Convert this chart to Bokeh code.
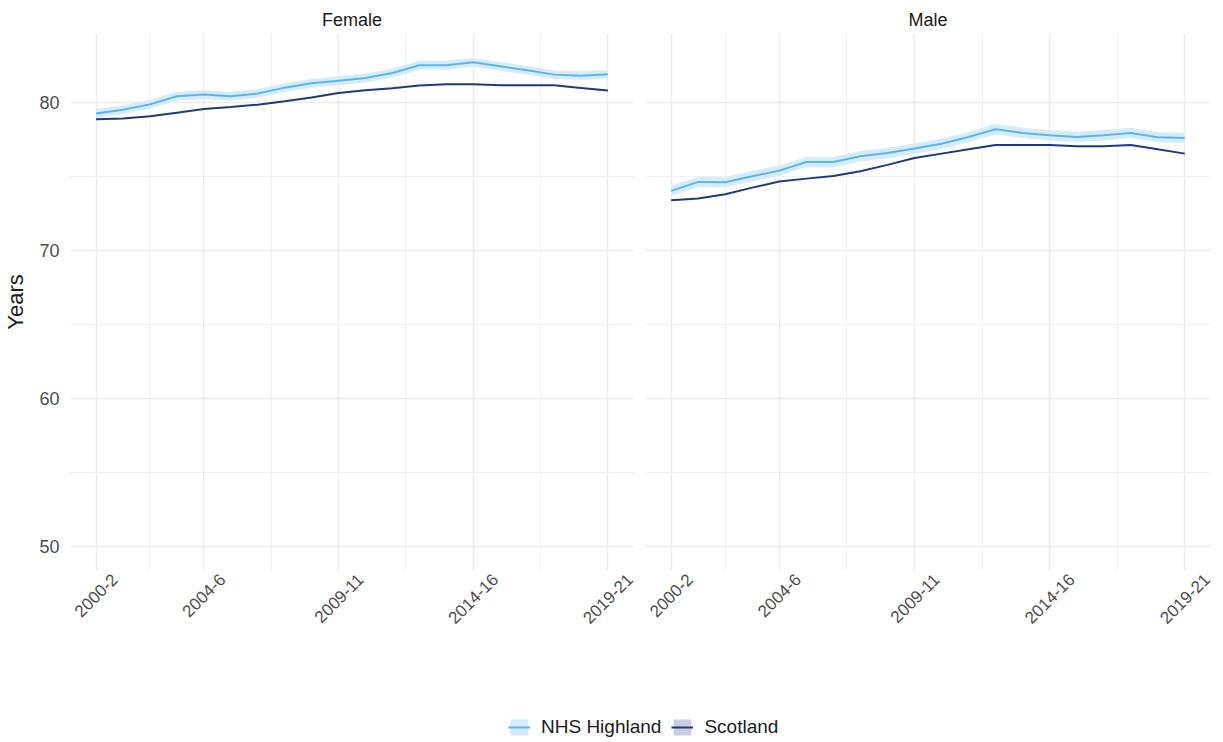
from math import pi, sqrt

from bokeh.embed import file_html
from bokeh.layouts import column, row
from bokeh.models import FixedTicker, Grid, Legend, LegendItem, Range1d
from bokeh.plotting import figure
from bokeh.resources import INLINE

# Three-year rolling periods, plotted at their middle year
period_mid = [2001, 2002, 2003, 2004, 2005, 2006, 2007, 2008, 2009, 2010,
              2011, 2012, 2013, 2014, 2015, 2016, 2017, 2018, 2019, 2020]
tick_pos = [2001, 2005, 2010, 2015, 2020]
tick_labels = ["2000-2", "2004-6", "2009-11", "2014-16", "2019-21"]
minor_pos = [2003, 2007.5, 2012.5, 2017.5]
y_ticks = [50, 60, 70, 80]
y_minor = [55, 65, 75]

# Life expectancy at birth (years), with 95% confidence limits for NHS Highland
female_highland = [79.24, 79.50, 79.86, 80.41, 80.52, 80.41, 80.59, 80.99, 81.28, 81.46,
                   81.64, 81.98, 82.50, 82.50, 82.70, 82.43, 82.16, 81.87, 81.80, 81.89]
female_highland_lo = [78.94, 79.20, 79.56, 80.11, 80.22, 80.11, 80.29, 80.69, 80.98, 81.16,
                      81.34, 81.68, 82.20, 82.20, 82.40, 82.13, 81.86, 81.57, 81.50, 81.59]
female_highland_hi = [79.54, 79.80, 80.16, 80.71, 80.82, 80.71, 80.89, 81.29, 81.58, 81.76,
                      81.94, 82.28, 82.80, 82.80, 83.00, 82.73, 82.46, 82.17, 82.10, 82.19]
female_scotland = [78.85, 78.90, 79.05, 79.30, 79.55, 79.68, 79.84, 80.07, 80.32, 80.63,
                   80.81, 80.95, 81.13, 81.22, 81.22, 81.15, 81.15, 81.15, 80.97, 80.79]

male_highland = [74.01, 74.62, 74.60, 75.00, 75.38, 75.96, 75.96, 76.35, 76.57, 76.87,
                 77.20, 77.65, 78.18, 77.93, 77.77, 77.66, 77.77, 77.93, 77.64, 77.59]
male_highland_lo = [73.66, 74.27, 74.25, 74.65, 75.03, 75.61, 75.61, 76.00, 76.22, 76.52,
                    76.85, 77.30, 77.83, 77.58, 77.42, 77.31, 77.42, 77.58, 77.29, 77.24]
male_highland_hi = [74.36, 74.97, 74.95, 75.35, 75.73, 76.31, 76.31, 76.70, 76.92, 77.22,
                    77.55, 78.00, 78.53, 78.28, 78.12, 78.01, 78.12, 78.28, 77.99, 77.94]
male_scotland = [73.38, 73.49, 73.78, 74.23, 74.64, 74.84, 75.02, 75.34, 75.77, 76.24,
                 76.53, 76.82, 77.12, 77.12, 77.12, 77.03, 77.03, 77.12, 76.82, 76.53]

FONT = "Liberation Sans"
HL_LINE = "#5bb5e8"
HL_BAND = "#d3eaf9"
SC_LINE = "#1e3a78"
SC_BAND = "#c9cee0"
GRID = "#ebebeb"
MINOR = "#f1f1f1"
FRAME_W = 565
X_START, X_END = 2000.05, 2020.95
XLAB_SIZE = 17


def approx_text_width(s, size):
    # advance widths of digits and hyphens in a Helvetica-metric face
    return size * sum(0.333 if ch == "-" else 0.556 for ch in s)


def centred_label_ticks():
    # Bokeh anchors a 45-degree label at its right end; shift each anchor so the
    # label's middle sits under its period instead
    px_per_year = FRAME_W / (X_END - X_START)
    diag = sqrt(0.5)
    shifted = []
    for t, lab in zip(tick_pos, tick_labels):
        dx = approx_text_width(lab, XLAB_SIZE) / 2 * diag / px_per_year
        shifted.append(round(t + dx, 4))
    return shifted


def style_x(p):
    shifted = centred_label_ticks()
    ax = p.xaxis[0]
    ax.ticker = FixedTicker(ticks=shifted)
    ax.major_label_overrides = {s: lab for s, lab in zip(shifted, tick_labels)}
    ax.major_label_orientation = pi / 4
    ax.major_label_text_font = FONT
    ax.major_label_text_font_size = f"{XLAB_SIZE}px"
    ax.major_label_text_color = "#4d4d4d"
    ax.major_label_standoff = 6
    ax.axis_line_color = None
    ax.major_tick_line_color = None
    ax.minor_tick_line_color = None
    ax.major_tick_out = 0
    ax.minor_tick_out = 0

    xg = p.xgrid[0]
    xg.ticker = FixedTicker(ticks=tick_pos, minor_ticks=minor_pos)
    xg.grid_line_color = GRID
    xg.grid_line_width = 1.5
    xg.minor_grid_line_color = MINOR
    xg.minor_grid_line_width = 1


def panel(title, hl, lo, hi, sc, left, right, show_y):
    p = figure(
        width=left + FRAME_W + right, height=680,
        x_range=Range1d(X_START, X_END), y_range=Range1d(48.35, 84.65),
        output_backend="svg", toolbar_location=None,
        y_axis_location="left" if show_y else None,
        min_border_left=left, min_border_right=right,
        min_border_top=33, min_border_bottom=110,
        title=title,
    )
    p.outline_line_color = None
    p.background_fill_color = "white"
    p.border_fill_color = "white"

    p.title.align = "center"
    p.title.text_font = FONT
    p.title.text_font_size = "18px"
    p.title.text_font_style = "normal"
    p.title.text_color = "#1a1a1a"
    p.title.standoff = 8

    style_x(p)

    y_ticker = FixedTicker(ticks=y_ticks, minor_ticks=y_minor)
    if show_y:
        ay = p.yaxis[0]
        ay.ticker = y_ticker
        ay.axis_label = "Years"
        ay.axis_label_text_font = FONT
        ay.axis_label_text_font_size = "22px"
        ay.axis_label_text_font_style = "normal"
        ay.axis_label_text_color = "#1a1a1a"
        ay.axis_label_standoff = 8
        ay.major_label_text_font = FONT
        ay.major_label_text_font_size = "18px"
        ay.major_label_text_color = "#4d4d4d"
        ay.major_label_standoff = 11
        ay.axis_line_color = None
        ay.major_tick_line_color = None
        ay.minor_tick_line_color = None
        ay.major_tick_out = 0
        ay.minor_tick_out = 0
        yg = p.ygrid[0]
    else:
        yg = Grid(dimension=1, ticker=y_ticker)
        p.add_layout(yg)
    yg.grid_line_color = GRID
    yg.grid_line_width = 1.5
    yg.minor_grid_line_color = MINOR
    yg.minor_grid_line_width = 1

    p.varea(x=period_mid, y1=lo, y2=hi, fill_color=HL_BAND, fill_alpha=0.9)
    p.line(x=period_mid, y=sc, line_color=SC_LINE, line_width=2)
    p.line(x=period_mid, y=hl, line_color=HL_LINE, line_width=2)
    return p


p_f = panel("Female", female_highland, female_highland_lo, female_highland_hi,
            female_scotland, 68, 6, True)
p_m = panel("Male", male_highland, male_highland_lo, male_highland_hi,
            male_scotland, 6, 11, False)

# Shared legend strip under both panels; its key glyphs sit outside the visible range
p_leg = figure(width=1221, height=62, x_range=Range1d(0, 1), y_range=Range1d(0, 1),
               x_axis_location=None, y_axis_location=None,
               output_backend="svg", toolbar_location=None,
               min_border=0)
p_leg.outline_line_color = None
p_leg.xgrid.visible = False
p_leg.ygrid.visible = False
q_hl = p_leg.quad(left=[-3], right=[-2], top=[-2], bottom=[-3], fill_color=HL_BAND, line_color=None)
l_hl = p_leg.line(x=[-3, -2], y=[-3, -2], line_color=HL_LINE, line_width=2)
q_sc = p_leg.quad(left=[-3], right=[-2], top=[-2], bottom=[-3], fill_color=SC_BAND, line_color=None)
l_sc = p_leg.line(x=[-3, -2], y=[-3, -2], line_color=SC_LINE, line_width=2)
legend = Legend(
    items=[LegendItem(label="NHS Highland", renderers=[q_hl, l_hl]),
           LegendItem(label="Scotland", renderers=[q_sc, l_sc])],
    orientation="horizontal", location=(508, 4),
    glyph_width=22, glyph_height=20, label_standoff=11, spacing=10,
    padding=0, margin=0, border_line_color=None, background_fill_alpha=0,
    label_text_font=FONT, label_text_font_size="19px", label_text_color="#1a1a1a",
)
p_leg.add_layout(legend)

layout = column(row(p_f, p_m), p_leg)

with open("out.html", "w") as f:
    f.write(file_html(layout, INLINE))
